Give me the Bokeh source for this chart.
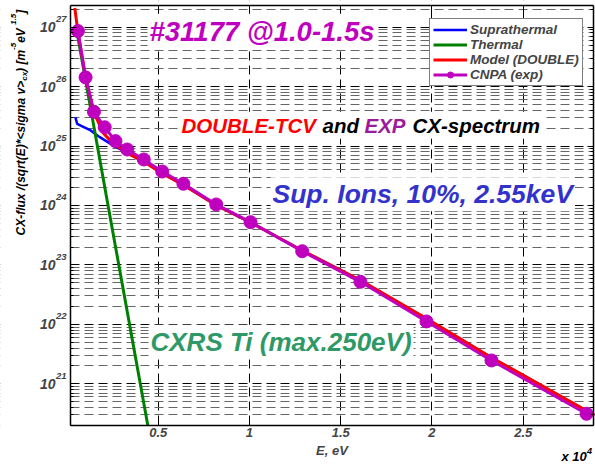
import math
from bokeh.plotting import figure
from bokeh.models import (Range1d, FixedTicker, Label, Legend, LegendItem,
                          LinearAxis, LogAxis, BoxAnnotation)
from bokeh.embed import file_html
from bokeh.resources import INLINE

# ---- data (E in units of 1e4 eV) ----
E_exp = [0.060, 0.102, 0.148, 0.207, 0.266, 0.330, 0.421, 0.522, 0.638, 0.818,
         1.006, 1.289, 1.608, 1.970, 2.326, 2.847]
F_exp = [8.6e26, 1.43e26, 3.77e25, 2.07e25, 1.21e25, 8.75e24, 5.94e24, 3.73e24,
         2.32e24, 1.04e24, 5.24e23, 1.70e23, 5.2e22, 1.12e22, 2.47e21, 3.13e20]

E_mod = [0.043, 0.060, 0.102, 0.148, 0.20, 0.25, 0.33, 0.42, 0.52, 0.64, 0.82,
         1.006, 1.289, 1.608, 1.970, 2.326, 2.89]
F_mod = [2.1e27, 8.4e26, 1.45e26, 3.6e25, 1.65e25, 1.12e25, 7.6e24, 5.5e24, 3.5e24,
         2.2e24, 1.0e24, 5.2e23, 1.75e23, 5.5e22, 1.25e22, 2.77e21, 2.96e20]

E_sup = [0.046, 0.056, 0.084, 0.13, 0.18, 0.24, 0.33, 0.42, 0.52, 0.64, 0.82,
         1.006, 1.289, 1.608, 1.970, 2.326, 2.89]
F_sup = [3.06e25, 2.37e25, 2.14e25, 1.83e25, 1.41e25, 1.09e25, 7.6e24, 5.5e24, 3.5e24,
         2.2e24, 1.0e24, 5.2e23, 1.75e23, 5.5e22, 1.25e22, 2.77e21, 2.96e20]

E_th = [0.05, 0.2205, 0.443]
F_th = [1.0e27, 1.2e24, 2.0e20]

x_ticks = [0.5, 1.0, 1.5, 2.0, 2.5]
x_tick_labels = ["0.5", "1", "1.5", "2", "2.5"]
y_exps = [21, 22, 23, 24, 25, 26, 27]
y_major = [10.0 ** e for e in y_exps]
y_minor = [m * 10.0 ** e for e in range(20, 28) for m in range(2, 10)]

# axes box limits (data) and full canvas extents (data)
box_left, box_right = 0.0195, 2.885
box_bottom, box_top = 2.0e20, 2.3e27
canvas_x = (-0.3641, 2.8962)
canvas_y = (4.06e19, 2.81e27)

FONT = "Liberation Sans"
MAG = "#BF00BF"
W, H = 595, 466

p = figure(width=W, height=H, output_backend="svg", toolbar_location=None,
           y_axis_type="log", x_axis_location=None, y_axis_location=None,
           x_range=Range1d(*canvas_x), y_range=Range1d(*canvas_y),
           min_border=0)
p.background_fill_color = "white"
p.border_fill_color = "white"
p.outline_line_color = None

# grid
p.xgrid.ticker = FixedTicker(ticks=x_ticks)
p.xgrid.grid_line_color = "black"
p.xgrid.grid_line_dash = "9 5"
p.xgrid.grid_line_width = 1
p.ygrid.ticker = FixedTicker(ticks=y_major, minor_ticks=y_minor)
p.ygrid.grid_line_color = "black"
p.ygrid.grid_line_dash = "9 5"
p.ygrid.grid_line_width = 1
p.ygrid.minor_grid_line_color = "#666666"
p.ygrid.minor_grid_line_dash = "9 5"
p.ygrid.minor_grid_line_width = 1

# white masks outside the axes box (under the data, over the grid)
for kw in (dict(right=box_left), dict(left=box_right),
           dict(top=box_bottom), dict(bottom=box_top)):
    p.add_layout(BoxAnnotation(fill_color="white", fill_alpha=1, line_color=None,
                               level="underlay", **kw))


def style_axis(ax, show_labels):
    ax.axis_line_width = 1.5
    ax.major_tick_in = 6
    ax.major_tick_out = 0
    ax.minor_tick_in = 3
    ax.minor_tick_out = 0
    ax.major_label_text_font = FONT
    ax.major_label_text_font_style = "bold italic"
    if not show_labels:
        ax.major_label_text_color = None


xb = LinearAxis(fixed_location=box_bottom, bounds=(box_left, box_right),
                ticker=FixedTicker(ticks=x_ticks))
style_axis(xb, True)
xb.major_label_overrides = {t: l for t, l in zip(x_ticks, x_tick_labels)}
xb.major_label_text_font_size = "13px"
xb.major_label_standoff = 3
xb.minor_tick_line_color = None
xb.axis_label = "E, eV"
xb.axis_label_text_font = FONT
xb.axis_label_text_font_style = "bold italic"
xb.axis_label_text_font_size = "13px"
xb.axis_label_standoff = 2
p.add_layout(xb, "below")

xt = LinearAxis(fixed_location=box_top, bounds=(box_left, box_right),
                ticker=FixedTicker(ticks=x_ticks))
style_axis(xt, False)
xt.minor_tick_line_color = None
p.add_layout(xt, "above")

yl = LogAxis(fixed_location=box_left, bounds=(box_bottom, box_top),
             ticker=FixedTicker(ticks=y_major, minor_ticks=y_minor))
style_axis(yl, False)
p.add_layout(yl, "left")

yr = LogAxis(fixed_location=box_right, bounds=(box_bottom, box_top),
             ticker=FixedTicker(ticks=y_major, minor_ticks=y_minor))
style_axis(yr, False)
p.add_layout(yr, "right")

# curves
r_sup = p.line(E_sup, F_sup, line_color="#0000FF", line_width=2.5)
r_th = p.line(E_th, F_th, line_color="#008000", line_width=3)
r_mod = p.line(E_mod, F_mod, line_color="#FF0000", line_width=3)
r_expl = p.line(E_exp, F_exp, line_color=MAG, line_width=3)
r_exps = p.scatter(E_exp, F_exp, marker="circle", size=13, fill_color=MAG,
                   line_color=MAG)

legend = Legend(items=[
    LegendItem(label="Suprathermal", renderers=[r_sup]),
    LegendItem(label="Thermal", renderers=[r_th]),
    LegendItem(label="Model (DOUBLE)", renderers=[r_mod]),
    LegendItem(label="CNPA (exp)", renderers=[r_expl, r_exps]),
], location=(429, 380))
legend.label_text_font = FONT
legend.label_text_font_style = "bold italic"
legend.label_text_font_size = "13.5px"
legend.glyph_width = 34
legend.glyph_height = 15
legend.label_height = 15
legend.label_standoff = 3
legend.spacing = 0
legend.padding = 3
legend.margin = 0
legend.border_line_color = "black"
legend.border_line_width = 1
legend.background_fill_color = "white"
legend.background_fill_alpha = 1
p.add_layout(legend, "center")


def lab(x, y, text, size, color="black", bg=None, **kw):
    l = Label(x=x, y=y, x_units="screen", y_units="screen", text=text,
              text_font=FONT, text_font_style="bold italic",
              text_font_size=size, text_color=color, **kw)
    if bg:
        l.background_fill_color = bg
        l.padding = 2
    p.add_layout(l)
    return l


# y tick labels 10^n, placed at the tick values
for e, t in zip(y_exps, y_major):
    p.add_layout(Label(x=55, y=t, x_units="screen", y_units="data", text="10",
                       text_align="right", text_baseline="middle",
                       text_font=FONT, text_font_style="bold italic",
                       text_font_size="14px"))
    p.add_layout(Label(x=55.5, y=t, x_units="screen", y_units="data", text=str(e),
                       text_align="left", text_baseline="middle", y_offset=8,
                       text_font=FONT, text_font_style="bold italic",
                       text_font_size="9.5px"))

# annotations (canvas coords: x from left, y from bottom)
lab(147, 417.7, "#31177 @1.0-1.5s", "27.5px", MAG, bg="white")
lab(179, 327.7, "DOUBLE-TCV ", "20.5px", "#FF0000", bg="white")
lab(320, 327.7, "and ", "20.5px", "black", bg="white")
lab(362, 327.7, "EXP ", "20.5px", "#9B1B9B", bg="white")
lab(410, 327.7, "CX-spectrum", "20.5px", "black", bg="white")
lab(270, 255.3, "Sup. Ions, 10%, 2.55keV", "26.5px", "#3333CC", bg="white")
lab(148, 107.7, "CXRS Ti (max.250eV)", "26px", "#2E9966", bg="white")

# x multiplier
lab(561, 10, "x 10", "13px", text_baseline="middle")
lab(586.5, 16, "4", "9px", text_baseline="middle")

# y-axis label pieces (rotated)
A = math.pi / 2
lab(20.5, 231, "CX-flux /(sqrt(E)*<sigma v>", "12px", angle=A, text_baseline="middle")
lab(24, 385.7, "cx", "8px", angle=A, text_baseline="middle")
lab(20.5, 394.6, ") [m", "12px", angle=A, text_baseline="middle")
lab(13, 416.6, "-5", "8px", angle=A, text_baseline="middle")
lab(20.5, 423.7, " eV", "12px", angle=A, text_baseline="middle")
lab(13, 441.7, "1.5", "8px", angle=A, text_baseline="middle")
lab(20.5, 452.8, "]", "12px", angle=A, text_baseline="middle")

open("out.html", "w").write(file_html(p, INLINE))
